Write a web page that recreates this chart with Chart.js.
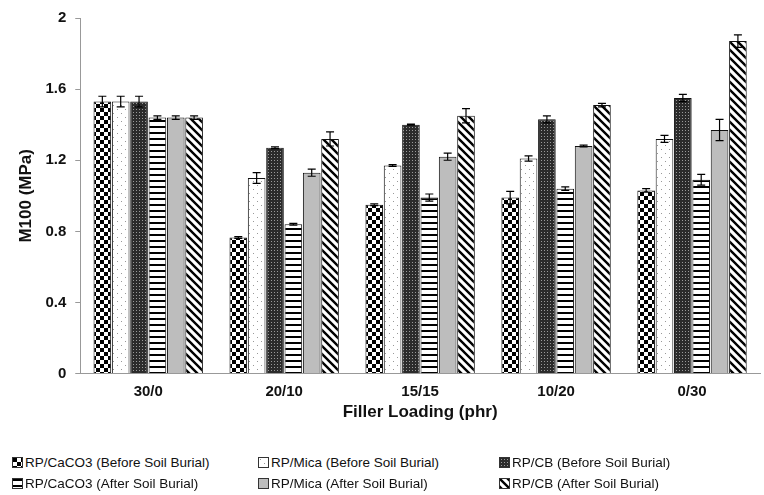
<!DOCTYPE html>
<html>
<head>
<meta charset="utf-8">
<script src="https://cdn.jsdelivr.net/npm/chart.js@4.4.1/dist/chart.umd.min.js"></script>
<style>
  html, body { margin: 0; padding: 0; background: #fff; }
  #wrap { position: relative; width: 764px; height: 495px; }
  #chart { position: absolute; left: 0; top: 0; }
  #legend {
    position: absolute; left: 12px; top: 455px; width: 752px;
    display: grid; grid-template-columns: 246px 241px 250px; row-gap: 6px;
    font-family: "Liberation Sans", Arial, sans-serif; font-size: 13.5px; color: #111;
  }
  .item { display: flex; align-items: center; white-space: nowrap; }
  .item canvas { width: 9px; height: 9px; margin-right: 2px; border: 1px solid #333; }
</style>
</head>
<body>
<div id="wrap">
  <canvas id="chart" width="764" height="423"></canvas>
  <div id="legend"></div>
</div>
<script>
// categories and series values
const categories = ['30/0', '20/10', '15/15', '10/20', '0/30'];
const seriesLabels = [
  'RP/CaCO3 (Before Soil Burial)', 'RP/Mica (Before Soil Burial)', 'RP/CB (Before Soil Burial)',
  'RP/CaCO3 (After Soil Burial)', 'RP/Mica (After Soil Burial)', 'RP/CB (After Soil Burial)'
];
const caco3Before = [1.53, 0.765, 0.95, 0.99, 1.03];
const micaBefore  = [1.53, 1.10, 1.17, 1.21, 1.32];
const cbBefore    = [1.53, 1.27, 1.40, 1.43, 1.55];
const caco3After  = [1.44, 0.84, 0.99, 1.04, 1.09];
const micaAfter   = [1.44, 1.13, 1.22, 1.28, 1.37];
const cbAfter     = [1.44, 1.32, 1.45, 1.51, 1.87];

const caco3BeforeErr = [0.03, 0.005, 0.005, 0.035, 0.01];
const micaBeforeErr  = [0.03, 0.03, 0.005, 0.015, 0.02];
const cbBeforeErr    = [0.03, 0.005, 0.003, 0.02, 0.02];
const caco3AfterErr  = [0.01, 0.005, 0.02, 0.01, 0.03];
const micaAfterErr   = [0.01, 0.02, 0.02, 0.005, 0.06];
const cbAfterErr     = [0.01, 0.04, 0.04, 0.01, 0.035];

const yTicks = [0, 0.4, 0.8, 1.2, 1.6, 2];

function makeTile(w, h, draw) {
  const c = document.createElement('canvas');
  c.width = w; c.height = h;
  const g = c.getContext('2d');
  draw(g, w, h);
  return c;
}

const tiles = [
  // checkerboard
  makeTile(8, 8, (g) => {
    g.fillStyle = '#fff'; g.fillRect(0, 0, 8, 8);
    g.fillStyle = '#000'; g.fillRect(0, 0, 4, 4); g.fillRect(4, 4, 4, 4);
  }),
  // sparse dots
  makeTile(8, 8, (g) => {
    g.fillStyle = '#fff'; g.fillRect(0, 0, 8, 8);
    g.fillStyle = '#999'; g.fillRect(1, 1, 1, 1); g.fillRect(5, 5, 1, 1);
  }),
  // dense dark grid
  makeTile(3, 3, (g) => {
    g.fillStyle = '#2b2b2b'; g.fillRect(0, 0, 3, 3);
    g.fillStyle = '#9a9a9a'; g.fillRect(1, 1, 1, 1);
  }),
  // horizontal stripes
  makeTile(6, 6, (g) => {
    g.fillStyle = '#fff'; g.fillRect(0, 0, 6, 6);
    g.fillStyle = '#000'; g.fillRect(0, 0, 6, 2);
  }),
  // solid grey
  makeTile(4, 4, (g) => {
    g.fillStyle = '#bdbdbd'; g.fillRect(0, 0, 4, 4);
  }),
  // diagonal stripes top-left to bottom-right
  makeTile(8, 8, (g) => {
    g.fillStyle = '#fff'; g.fillRect(0, 0, 8, 8);
    g.strokeStyle = '#000'; g.lineWidth = 2.4;
    g.beginPath();
    g.moveTo(-2, -2); g.lineTo(10, 10);
    g.moveTo(-10, -2); g.lineTo(2, 10);
    g.moveTo(6, -2); g.lineTo(18, 10);
    g.stroke();
  })
];

const ctx = document.getElementById('chart').getContext('2d');
const patterns = tiles.map(t => ctx.createPattern(t, 'repeat'));

const values = [caco3Before, micaBefore, cbBefore, caco3After, micaAfter, cbAfter];
const errors = [caco3BeforeErr, micaBeforeErr, cbBeforeErr, caco3AfterErr, micaAfterErr, cbAfterErr];

const datasets = seriesLabels.map((label, i) => ({
  label,
  data: values[i],
  err: errors[i],
  backgroundColor: patterns[i],
  borderColor: '#111',
  borderWidth: 1,
  categoryPercentage: 0.81,
  barPercentage: 0.96
}));

const errorBars = {
  id: 'errorBars',
  afterDatasetsDraw(chart) {
    const g = chart.ctx;
    const y = chart.scales.y;
    g.save();
    g.strokeStyle = '#000';
    g.lineWidth = 1.2;
    chart.data.datasets.forEach((ds, di) => {
      const meta = chart.getDatasetMeta(di);
      meta.data.forEach((bar, j) => {
        const v = ds.data[j], e = ds.err[j];
        const top = y.getPixelForValue(v + e);
        const bot = y.getPixelForValue(v - e);
        const x = bar.x;
        g.beginPath();
        g.moveTo(x, top); g.lineTo(x, bot);
        g.moveTo(x - 4, top); g.lineTo(x + 4, top);
        g.moveTo(x - 4, bot); g.lineTo(x + 4, bot);
        g.stroke();
      });
    });
    g.restore();
  }
};

new Chart(ctx, {
  type: 'bar',
  data: { labels: categories, datasets },
  plugins: [errorBars],
  options: {
    responsive: false,
    animation: false,
    layout: { padding: { top: 5, right: 4, left: 16, bottom: 0 } },
    plugins: { legend: { display: false }, tooltip: { enabled: false } },
    scales: {
      x: {
        grid: { display: false },
        border: { color: '#999' },
        ticks: { color: '#111', font: { family: 'Liberation Sans', size: 15, weight: 'bold', lineHeight: 1 }, padding: 3 },
        title: { display: true, text: 'Filler Loading (phr)', color: '#111',
          font: { family: 'Liberation Sans', size: 17, weight: 'bold' }, padding: { top: 0, bottom: 0 } }
      },
      y: {
        min: 0, max: 2,
        afterBuildTicks: (axis) => { axis.ticks = yTicks.map(v => ({ value: v })); },
        grid: { drawOnChartArea: false, tickLength: 5, color: '#999' },
        border: { color: '#999' },
        ticks: { color: '#111', font: { family: 'Liberation Sans', size: 15, weight: 'bold' }, padding: 9,
          callback: (v) => String(v) },
        title: { display: true, text: 'M100 (MPa)', color: '#111',
          font: { family: 'Liberation Sans', size: 17, weight: 'bold' }, padding: { top: 0, bottom: 0 } }
      }
    }
  }
});

// legend built from the same series, in three columns
const legend = document.getElementById('legend');
seriesLabels.forEach((label, i) => {
  const item = document.createElement('div');
  item.className = 'item';
  const sw = document.createElement('canvas');
  sw.width = 9; sw.height = 9;
  const sg = sw.getContext('2d');
  sg.fillStyle = sg.createPattern(tiles[i], 'repeat');
  sg.fillRect(0, 0, 9, 9);
  const span = document.createElement('span');
  span.textContent = label;
  item.appendChild(sw);
  item.appendChild(span);
  legend.appendChild(item);
});
</script>
</body>
</html>
